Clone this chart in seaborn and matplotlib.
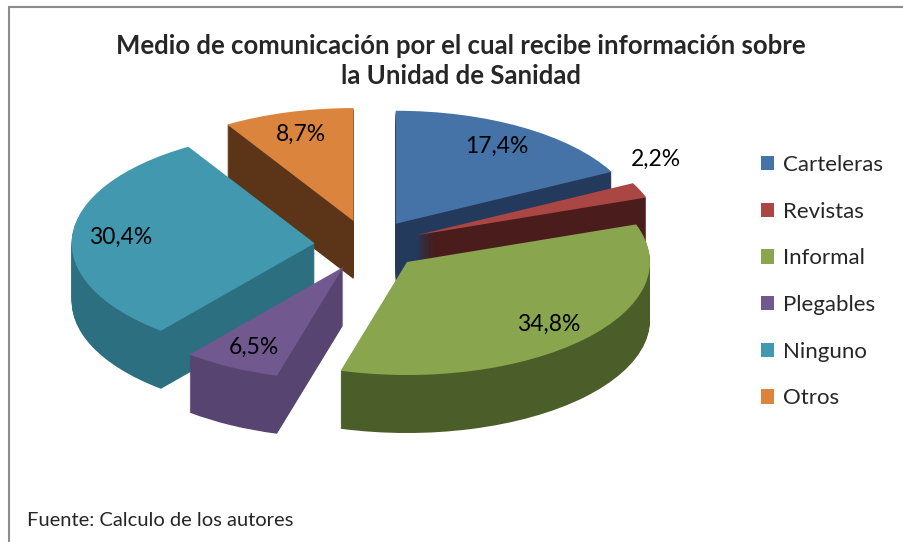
import numpy as np
import matplotlib.pyplot as plt
from matplotlib.patches import Rectangle
import seaborn as sns

categories = ['Carteleras', 'Revistas', 'Informal', 'Plegables', 'Ninguno', 'Otros']
percentages = [17.4, 2.2, 34.8, 6.5, 30.4, 8.7]
top_colors = ['#4572A7', '#AA4643', '#89A54E', '#71588F', '#4198AF', '#DB843D']
side_colors = ['#243a5c', '#4a1c1c', '#4b5e2a', '#574470', '#2c6f80', '#5c3418']

sns.set_theme(style='white')
plt.rcParams['font.family'] = ['Lato', 'DejaVu Sans']

W, H = 904, 542
# pie centre and radii in pixels (the top face is squashed to fake the 3D tilt)
cx, cy = 368, 245
rx, ry = 243, 113
depth = 58
explode = [0.22] * len(percentages)

fig = plt.figure(figsize=(W / 100, H / 100), dpi=100)
ax = fig.add_axes([0, 0, 1, 1])

# side walls: stacked copies of the pie, from the bottom up
for k in range(depth, 0, -1):
    ax.pie(percentages, explode=explode, colors=side_colors, startangle=90,
           counterclock=False, center=(0, -k / ry),
           wedgeprops=dict(linewidth=0))

# top face with labels
wedges, texts, autotexts = ax.pie(
    percentages, explode=explode, colors=top_colors, startangle=90,
    counterclock=False, pctdistance=0.8,
    autopct=lambda p: f'{p:.1f}%'.replace('.', ','),
    textprops=dict(fontsize=16.5, color='black'),
    wedgeprops=dict(linewidth=0))

# small slice: put its label outside
w = wedges[1]
tm = np.deg2rad((w.theta1 + w.theta2) / 2 + 11)
autotexts[1].set_position((w.center[0] + 1.19 * np.cos(tm), w.center[1] + 1.19 * np.sin(tm)))

ax.set_aspect('auto')
ax.set_xlim(-cx / rx, (W - cx) / rx)
ax.set_ylim((cy - H) / ry, cy / ry)
ax.axis('off')

fig.legend(wedges, categories, loc='upper left', bbox_to_anchor=(761 / W, 1 - 155 / H),
           frameon=False, fontsize=16, handlelength=0.6, handleheight=0.6,
           handletextpad=0.4, labelspacing=1.2, borderaxespad=0, borderpad=0)

fig.text(461 / W, 1 - 61.5 / H,
         'Medio de comunicación por el cual recibe información sobre\nla Unidad de Sanidad',
         ha='center', va='center', fontsize=18.5, fontweight='bold', linespacing=1.3)

fig.text(27 / W, 1 - 521 / H, 'Fuente: Calculo de los autores', fontsize=14.5, va='center')

fig.add_artist(Rectangle((9 / W, -0.1), 2, 1 - 7 / H + 0.1, transform=fig.transFigure,
                         fill=False, edgecolor='#8c8c8c', linewidth=1.5))

fig.savefig('out.png', dpi=100)
